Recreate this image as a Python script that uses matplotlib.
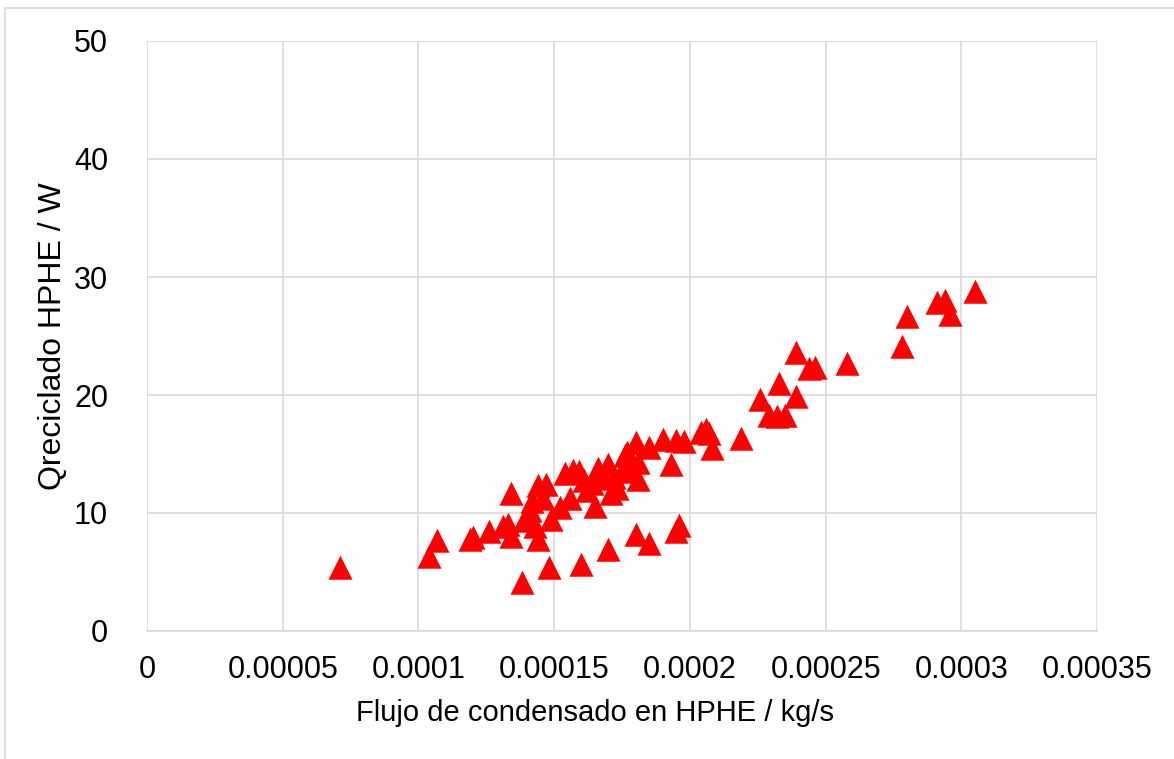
import matplotlib
matplotlib.use('Agg')
import matplotlib.pyplot as plt
from matplotlib.patches import Rectangle

# condensate flow (kg/s) and recycled heat (W)
flujo = [0.000071, 0.000104, 0.000107, 0.000119, 0.000120, 0.000126, 0.000131,
         0.000133, 0.000134, 0.000134, 0.000138, 0.000139, 0.000141, 0.000142,
         0.000143, 0.000144, 0.000144, 0.000146, 0.000147, 0.000148, 0.000149,
         0.000152, 0.000154, 0.000156, 0.000157, 0.000159, 0.000160, 0.000161,
         0.000162, 0.000164, 0.000165, 0.000166, 0.000167, 0.000170, 0.000170,
         0.000171, 0.000172, 0.000173, 0.000175, 0.000176, 0.000177, 0.000178,
         0.000180, 0.000180, 0.000181, 0.000181, 0.000185, 0.000185, 0.000190,
         0.000193, 0.000195, 0.000195, 0.000196, 0.000198, 0.000204, 0.000206,
         0.000207, 0.000208, 0.000219, 0.000226, 0.000229, 0.000232, 0.000233,
         0.000235, 0.000239, 0.000239, 0.000244, 0.000246, 0.000258, 0.000278,
         0.000280, 0.000291, 0.000294, 0.000296, 0.000305]
q_reciclado = [5.3, 6.3, 7.6, 7.7, 7.9, 8.4, 8.8,
               9.0, 8.0, 11.6, 4.1, 9.3, 10.2, 10.9,
               8.8, 7.7, 12.3, 11.2, 12.4, 5.3, 9.4,
               10.4, 13.3, 11.2, 13.6, 13.5, 5.6, 12.7,
               11.9, 12.5, 10.5, 13.7, 12.9, 14.1, 6.9,
               11.6, 13.0, 12.0, 13.5, 14.8, 15.1, 13.8,
               15.9, 8.1, 14.2, 12.8, 7.4, 15.5, 16.2,
               14.1, 16.1, 8.4, 8.9, 16.0, 16.8, 17.0,
               16.7, 15.4, 16.3, 19.6, 18.2, 18.1, 20.9,
               18.2, 23.6, 19.8, 22.2, 22.3, 22.6, 24.1,
               26.6, 27.8, 28.0, 26.8, 28.7]

x_ticks = [0, 0.00005, 0.0001, 0.00015, 0.0002, 0.00025, 0.0003, 0.00035]
x_labels = ['0', '0.00005', '0.0001', '0.00015', '0.0002', '0.00025', '0.0003', '0.00035']
y_ticks = [0, 10, 20, 30, 40, 50]

plt.rcParams['font.family'] = ['Liberation Sans', 'DejaVu Sans']

fig = plt.figure(figsize=(11.74, 7.59), dpi=100)
fig.patches.append(Rectangle((5 / 1174, -0.01), 1.02, 1 - 8 / 759 + 0.01,
                             transform=fig.transFigure, fill=False,
                             edgecolor='#d9d9d9', linewidth=1.2))
ax = fig.add_axes([147 / 1174, 1 - 631 / 759, 950 / 1174, 590 / 759])

ax.plot(flujo, q_reciclado, linestyle='none', marker='^', markersize=15,
        color='#ff0000', markeredgecolor='#ff0000', markeredgewidth=1.8,
        zorder=3)

ax.set_xlim(0, 0.00035)
ax.set_ylim(0, 50)
ax.set_xticks(x_ticks)
ax.set_xticklabels(x_labels)
ax.set_yticks(y_ticks)
ax.grid(True, color='#d9d9d9', linewidth=1.2)
ax.set_axisbelow(True)
for side in ['top', 'right', 'left']:
    ax.spines[side].set_visible(False)
ax.spines['bottom'].set_color('#d9d9d9')
ax.spines['bottom'].set_linewidth(1.2)
ax.tick_params(axis='both', length=0, labelsize=22, labelcolor='#000000')
ax.tick_params(axis='x', pad=17)
ax.tick_params(axis='y', pad=28)

ax.set_xlabel('Flujo de condensado en HPHE / kg/s', fontsize=21, labelpad=12)
ax.xaxis.set_label_coords(0.4716, -0.115)
ax.set_ylabel('Qreciclado HPHE / W', fontsize=23, labelpad=4)

fig.savefig('out.png', dpi=100)
